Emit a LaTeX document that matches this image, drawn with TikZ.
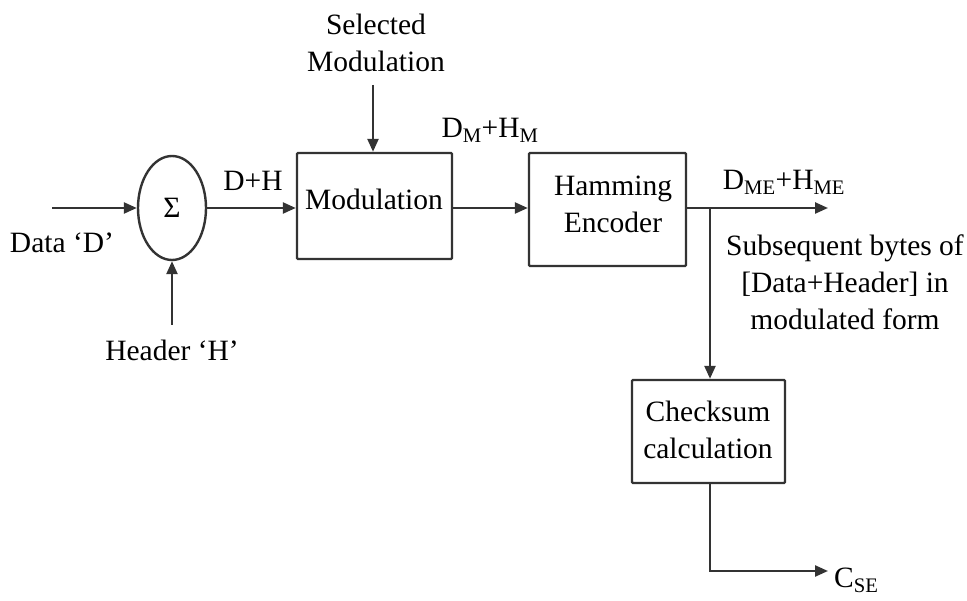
\documentclass[tikz,border=0pt]{standalone}
\usepackage{fontspec}
\setmainfont{Liberation Serif}
\usetikzlibrary{arrows.meta,shapes.geometric}
\begin{document}
\begin{tikzpicture}[x=1pt,y=-1pt,
  every node/.style={font=\fontsize{29.5}{37}\selectfont, text=black},
  wire/.style={draw=black!80, line width=2.4pt},
  arr/.style={wire, -{Triangle[length=13pt,width=11pt]}},
  blk/.style={draw=black!80, line width=2.4pt, rounded corners=1pt, inner sep=0pt},
  lbl/.style={inner sep=0pt, align=center}]
\useasboundingbox (0,0) rectangle (967,601);
% blocks
\node[blk, ellipse, minimum width=68pt, minimum height=104pt] (sum) at (172,208) {};
\node[lbl] at (172,208) {Σ};
\node[blk, minimum width=155pt, minimum height=106pt] (mod) at (374.5,206) {};
\node[lbl] (modt) at (374,199) {Modulation};
\node[blk, minimum width=157pt, minimum height=113pt] (ham) at (607.5,209.5) {};
\node[lbl] (hamt) at (613,204) {Hamming\\Encoder};
\node[blk, minimum width=153pt, minimum height=103pt] (chk) at (708.5,431.5) {};
\node[lbl] (chkt) at (708,430) {Checksum\\calculation};
% coordinates
\coordinate (din) at (52,208);
\coordinate (hin) at (172,325);
\coordinate (selin) at (373,85);
\coordinate (j) at (710,208);
\coordinate (out) at (828,208);
\coordinate (corner) at (710,571);
\coordinate (cout) at (828,571);
% labels
\node[lbl] (dl) at (62,243) {Data ‘D’};
\node[lbl] (hl) at (172,350) {Header ‘H’};
\node[lbl] (dh) at (253,181) {D+H};
\node[lbl] (sel) at (376,43) {Selected\\Modulation};
\node[lbl] (dm) at (490,130) {D\textsubscript{M}+H\textsubscript{M}};
\node[lbl] (dme) at (784,182) {D\textsubscript{ME}+H\textsubscript{ME}};
\node[lbl] (sub) at (845,282) {Subsequent bytes of\\{[}Data+Header] in\\modulated form};
\node[lbl, anchor=west] (cse) at (834,580) {C\textsubscript{SE}};
% connectors
\draw[arr] (din) -- (sum.west);
\draw[arr] (hin) -- (sum.south);
\draw[arr] (sum.east) -- (sum.east -| mod.west);
\draw[arr] (selin) -- (selin |- mod.north);
\draw[arr] (mod.east |- sum.east) -- (ham.west |- sum.east);
\draw[arr] (ham.east |- j) -- (out);
\draw[arr] (j) -- (j |- chk.north);
\draw[arr] (j |- chk.south) -- (corner) -- (cout);
\end{tikzpicture}
\end{document}
